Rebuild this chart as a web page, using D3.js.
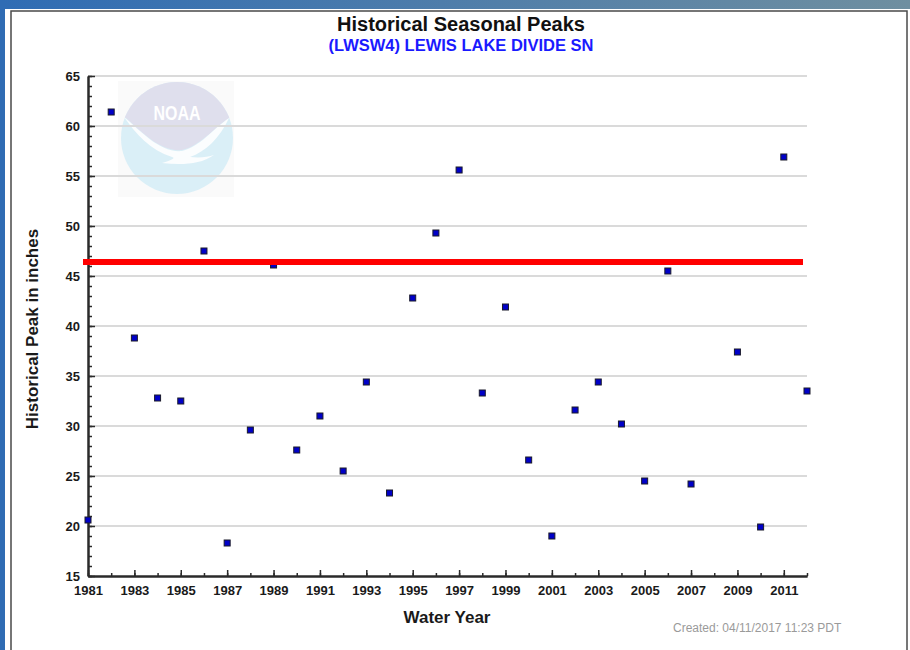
<!DOCTYPE html>
<html>
<head>
<meta charset="utf-8">
<script src="https://cdn.jsdelivr.net/npm/d3@7"></script>
<style>
  html, body { margin: 0; padding: 0; background: #fff; }
  svg { display: block; font-family: "Liberation Sans", Arial, sans-serif; }
</style>
</head>
<body>
<svg id="chart"></svg>
<script>
const width = 910;
const height = 650;

// water years and the seasonal peak (2008 has no point)
const years = [1981, 1982, 1983, 1984, 1985, 1986, 1987, 1988, 1989, 1990,
               1991, 1992, 1993, 1994, 1995, 1996, 1997, 1998, 1999, 2000,
               2001, 2002, 2003, 2004, 2005, 2006, 2007, 2008, 2009, 2010,
               2011, 2012];
const peaks = [20.6, 61.4, 38.8, 32.8, 32.5, 47.5, 18.3, 29.6, 46.1, 27.6,
               31.0, 25.5, 34.4, 23.3, 42.8, 49.3, 55.6, 33.3, 41.9, 26.6,
               19.0, 31.6, 34.4, 30.2, 24.5, 45.5, 24.2, null, 37.4, 19.9,
               56.9, 33.5];
const currentPeak = 46.4;

const yMajorTicks = [15, 20, 25, 30, 35, 40, 45, 50, 55, 60, 65];
const yMinorTicks = d3.range(15, 66);
const xLabelTicks = years.filter(d => d % 2 === 1);

const svg = d3.select('#chart')
            .attr('width', width)
            .attr('height', height);

// page frame
const grad = svg.append('defs').append('linearGradient')
            .attr('id', 'band').attr('x1', '0%').attr('x2', '100%');
grad.append('stop').attr('offset', '0%').attr('stop-color', '#2f6cb4');
grad.append('stop').attr('offset', '100%').attr('stop-color', '#6f8fa0');

svg.append('rect').attr('x', 0).attr('y', 0).attr('width', width).attr('height', 9).attr('fill', 'url(#band)');
svg.append('rect').attr('x', 0).attr('y', 0).attr('width', 5).attr('height', height).attr('fill', '#2f6cb4');
svg.append('rect').attr('x', 11).attr('y', 11).attr('width', 896).attr('height', 660)
    .attr('fill', '#fff').attr('stroke', '#4a4a4a').attr('stroke-width', 1.5);

const x = d3.scaleLinear().domain([1981, 2012]).range([88, 807]);
const y = d3.scaleLinear().domain([15, 65]).range([576, 76]);

// NOAA watermark
const logo = svg.append('g').attr('opacity', 0.9);
logo.append('rect').attr('x', 118).attr('y', 81).attr('width', 116).attr('height', 116).attr('fill', '#fafafa');
logo.append('clipPath').attr('id', 'logo-clip')
    .append('circle').attr('cx', 177).attr('cy', 138).attr('r', 56);
logo.append('circle').attr('cx', 177).attr('cy', 138).attr('r', 56).attr('fill', '#d7eef7');
const lg = logo.append('g').attr('clip-path', 'url(#logo-clip)');
lg.append('path')
    .attr('d', 'M110,70 L245,70 L245,112 L229,118 C214,128 200,146 182,150 C160,152 142,132 126,118 L110,112 Z')
    .attr('fill', '#dcdcec');
lg.append('path')
    .attr('d', 'M124,117 C142,132 160,153 182,151 C200,147 214,128 229,118 C220,138 205,152 190,157 C200,158 208,157 214,155 C200,165 180,165 162,163 C172,160 176,158 172,157 C150,150 136,134 124,117 Z')
    .attr('fill', '#fbfdfe');
logo.append('text').attr('x', 177).attr('y', 120).attr('text-anchor', 'middle')
    .attr('font-size', 21).attr('font-weight', 'bold').attr('fill', '#fff')
    .attr('textLength', 47).attr('lengthAdjust', 'spacingAndGlyphs')
    .text('NOAA');

// gridlines
svg.append('g').selectAll('line')
    .data(yMajorTicks.filter(d => d > 15))
    .enter()
    .append('line')
    .attr('x1', x.range()[0]).attr('x2', x.range()[1])
    .attr('y1', d => y(d)).attr('y2', d => y(d))
    .attr('stroke', '#dadada').attr('stroke-width', 2);

// axes
const yMinorAxis = svg.append('g').attr('transform', `translate(${x.range()[0]}, 0)`)
    .call(d3.axisLeft(y).tickValues(yMinorTicks).tickSize(-4).tickSizeOuter(0).tickFormat(''));
const yAxis = svg.append('g').attr('transform', `translate(${x.range()[0]}, 0)`)
    .call(d3.axisLeft(y).tickValues(yMajorTicks).tickSize(-7).tickSizeOuter(0).tickPadding(8));

const xMinorAxis = svg.append('g').attr('transform', `translate(0, ${y.range()[0]})`)
    .call(d3.axisBottom(x).tickValues(years).tickSize(-3).tickSizeOuter(0).tickFormat(''));
const xAxis = svg.append('g').attr('transform', `translate(0, ${y.range()[0]})`)
    .call(d3.axisBottom(x).tickValues(xLabelTicks).tickSize(-6).tickSizeOuter(0).tickPadding(10).tickFormat(d3.format('d')));

svg.selectAll('.domain').attr('stroke', '#2a2a2a').attr('stroke-width', 2);
svg.selectAll('.tick line').attr('stroke', '#2a2a2a').attr('stroke-width', 1.5);
svg.selectAll('.tick text')
    .attr('font-family', '"Liberation Sans", Arial, sans-serif')
    .attr('font-size', 13).attr('font-weight', 'bold').attr('fill', '#1a1a1a');

// points
const points = years.map((yr, i) => ({year: yr, peak: peaks[i]})).filter(d => d.peak !== null);
svg.append('g').selectAll('rect')
    .data(points)
    .enter()
    .append('rect')
    .attr('x', d => x(d.year) - 3)
    .attr('y', d => y(d.peak) - 3)
    .attr('width', 6)
    .attr('height', 6)
    .attr('fill', '#0000c8')
    .attr('stroke', '#1a1a2a')
    .attr('stroke-width', 1);

// current season line
svg.append('line')
    .attr('x1', x.range()[0] - 5).attr('x2', x.range()[1] - 4)
    .attr('y1', y(currentPeak)).attr('y2', y(currentPeak))
    .attr('stroke', '#ff0000').attr('stroke-width', 6);

// titles
svg.append('text').attr('x', 461).attr('y', 31).attr('text-anchor', 'middle')
    .attr('font-size', 20).attr('font-weight', 'bold').attr('fill', '#111')
    .text('Historical Seasonal Peaks');
svg.append('text').attr('x', 461).attr('y', 51).attr('text-anchor', 'middle')
    .attr('font-size', 16.5).attr('font-weight', 'bold').attr('fill', '#1a1aff')
    .text('(LWSW4) LEWIS LAKE DIVIDE SN');

svg.append('text').attr('transform', 'translate(38, 329) rotate(-90)').attr('text-anchor', 'middle')
    .attr('font-size', 17).attr('font-weight', 'bold').attr('fill', '#1a1a1a')
    .text('Historical Peak in inches');
svg.append('text').attr('x', 447).attr('y', 623).attr('text-anchor', 'middle')
    .attr('font-size', 17).attr('font-weight', 'bold').attr('fill', '#1a1a1a')
    .text('Water Year');
svg.append('text').attr('x', 673).attr('y', 632)
    .attr('font-size', 12).attr('fill', '#9a9a9a')
    .text('Created: 04/11/2017 11:23 PDT');
</script>
</body>
</html>
